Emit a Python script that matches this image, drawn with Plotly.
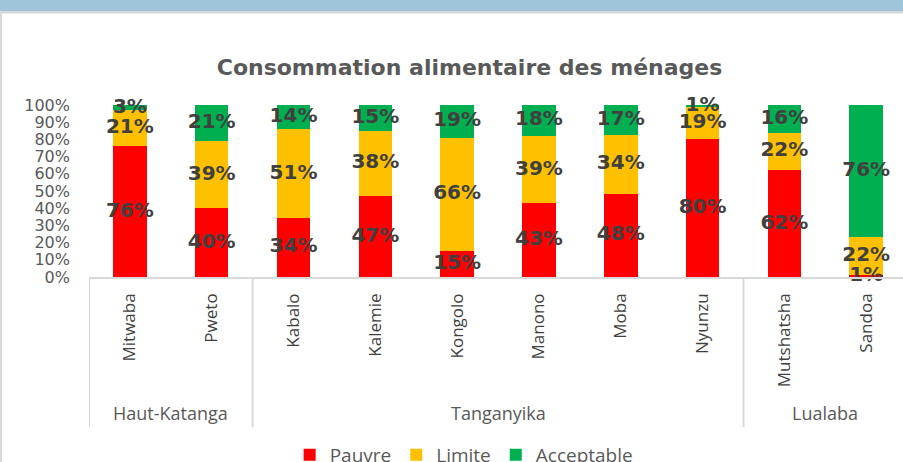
import plotly.graph_objects as go

districts = ["Mitwaba", "Pweto", "Kabalo", "Kalemie", "Kongolo", "Manono", "Moba", "Nyunzu", "Mutshatsha", "Sandoa"]
provinces = ["Haut-Katanga", "Tanganyika", "Lualaba"]
province_sizes = [2, 6, 2]
pauvre = [76, 40, 34, 47, 15, 43, 48, 80, 62, 1]
limite = [21, 39, 51, 38, 66, 39, 34, 19, 22, 22]
acceptable = [3, 21, 14, 15, 19, 18, 17, 1, 16, 76]
series_names = ["Pauvre", "Limite", "Acceptable"]
colors = ["#FF0000", "#FFC000", "#00B050"]
y_ticks = [0, 10, 20, 30, 40, 50, 60, 70, 80, 90, 100]
y_tick_labels = [f"{v}%" for v in y_ticks]

series = [pauvre, limite, acceptable]
xs = list(range(len(districts)))

fig = go.Figure()
for name, vals, col in zip(series_names, series, colors):
    fig.add_trace(go.Bar(x=xs, y=vals, name=name, marker=dict(color=col, line=dict(width=0)),
                         width=0.41))

# label positions: segment midpoints of normalized stacks
totals = [sum(v) for v in zip(*series)]
cum = [0.0] * len(districts)
for vals in series:
    mids = []
    for i, v in enumerate(vals):
        share = v / totals[i] * 100
        mids.append(cum[i] + share / 2)
        cum[i] += share
    fig.add_trace(go.Scatter(x=xs, y=mids, mode="text", text=[f"{v}%" for v in vals],
                             textfont=dict(family="DejaVu Sans", size=20, color="#404040", weight="bold"),
                             showlegend=False, cliponaxis=False, hoverinfo="skip"))

L, R, T, B = 89, 0, 105, 185
W, H = 903, 462
ph = H - T - B
pw = W - L - R

def py(p):
    return (H - B - p) / ph

def px(p):
    return (p - L) / pw

shapes = []
# top band
shapes.append(dict(type="rect", xref="paper", yref="paper", x0=px(-5), x1=px(910), y0=py(11), y1=py(-5),
                   fillcolor="#A0C4D8", line=dict(width=0), layer="below"))
shapes.append(dict(type="rect", xref="paper", yref="paper", x0=px(-5), x1=px(910), y0=py(13.5), y1=py(11),
                   fillcolor="#D3D8DC", line=dict(width=0), layer="below"))
# left border
shapes.append(dict(type="line", xref="paper", yref="paper", x0=px(1), x1=px(1), y0=py(13), y1=py(470),
                   line=dict(color="#D9D9D9", width=2)))
# axis line
shapes.append(dict(type="line", xref="paper", yref="paper", x0=0, x1=1, y0=py(278), y1=py(278),
                   line=dict(color="#D9D9D9", width=2)))
# group labels and dividers
annotations = []
start = 0
bounds = [start - 0.5]
for name, size in zip(provinces, province_sizes):
    center = start + (size - 1) / 2
    annotations.append(dict(x=center, y=py(413), xref="x", yref="paper", text=name, showarrow=False,
                            font=dict(family="Open Sans", size=18, color="#595959"),
                            xanchor="center", yanchor="middle"))
    start += size
    bounds.append(start - 0.5)
for b in bounds[:-1]:
    shapes.append(dict(type="line", xref="x", yref="paper", x0=b, x1=b, y0=py(278), y1=py(427),
                       line=dict(color="#D9D9D9", width=2)))

fig.update_layout(
    width=W, height=H,
    barmode="stack", barnorm="percent",
    margin=dict(l=L, r=R, t=T, b=B, pad=0, autoexpand=False),
    paper_bgcolor="white", plot_bgcolor="white",
    title=dict(text="Consommation alimentaire des ménages", x=0.52, xref="container", xanchor="center",
               y=1 - 67 / H, yref="container", yanchor="middle",
               font=dict(family="DejaVu Sans", size=22, color="#595959", weight="bold")),
    xaxis=dict(range=[-0.5, 9.45], tickvals=xs, ticktext=districts, tickangle=-90,
               showgrid=False, zeroline=False, showline=False, ticks="",
               ticklabelstandoff=12,
               tickfont=dict(family="Open Sans", size=17, color="#404040")),
    yaxis=dict(range=[0, 100], tickvals=y_ticks, ticktext=y_tick_labels, showgrid=False, zeroline=False,
               showline=False, ticks="", ticklabelstandoff=18,
               tickfont=dict(family="DejaVu Sans", size=16, color="#595959")),
    legend=dict(orientation="h", xref="container", yref="container", x=0.514, xanchor="center",
                y=(H - 455) / H, yanchor="middle", traceorder="normal",
                font=dict(family="Open Sans", size=19, color="#595959"), itemwidth=30),
    shapes=shapes, annotations=annotations, showlegend=True,
)

fig.write_html("out.html", config={"displayModeBar": False},
               post_script="document.body.style.margin='0px';document.body.style.padding='0px';")
